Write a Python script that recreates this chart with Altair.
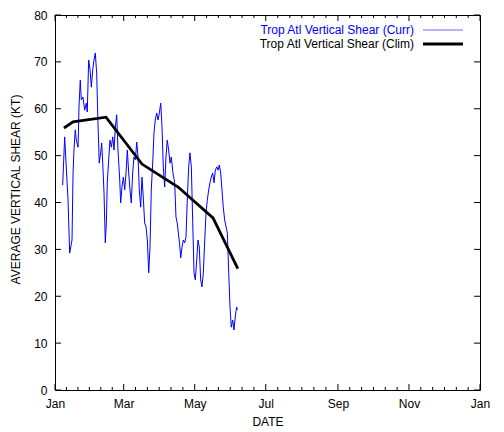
import altair as alt
import pandas as pd

# ---- data (day of year offset from Jan 1, value in KT) ----
curr_day = [6.6, 8.3, 11.2, 12.6, 14.6, 15.5, 16.3, 17.4, 18.3, 19.8, 20.6, 21.7, 22.6, 24.0,
            25.5, 26.9, 27.7, 28.9, 30.1, 31.2, 32.4, 33.5, 34.6, 35.8, 36.9, 38.0, 39.2, 40.1,
            41.0, 42.1, 43.2, 44.1, 44.9, 46.1, 47.2, 48.4, 49.6, 50.7, 51.8, 53.0, 54.1, 55.6,
            56.4, 57.5, 58.7, 59.9, 61.0, 62.1, 63.3, 64.4, 65.5, 66.7, 67.8, 69.0, 70.2, 71.3,
            72.4, 73.6, 74.7, 75.8, 77.0, 78.2, 79.3, 80.5, 81.6, 82.7, 83.9, 85.0, 86.1, 87.3,
            88.5, 89.6, 90.8, 91.9, 93.0, 94.2, 95.3, 96.4, 97.6, 98.8, 99.9, 101.3, 102.8, 103.9,
            105.0, 106.9, 108.0, 109.1, 110.2, 111.4, 112.5, 113.6, 114.8, 115.9, 117.1, 118.3,
            119.4, 120.5, 121.7, 122.8, 123.9, 125.1, 126.2, 127.4, 128.6, 129.7, 130.8, 132.0,
            133.1, 134.2, 135.4, 136.6, 137.7, 138.9, 140.0, 141.1, 142.3, 143.4, 144.5, 145.7,
            146.9, 148.0, 149.2, 150.3, 151.4, 152.6, 153.7, 154.8, 156.0, 156.6]
curr_val = [43.7, 54.0, 40.5, 29.2, 32.0, 46.3, 51.2, 55.5, 53.3, 51.8, 60.4, 66.1, 61.9, 62.5,
            59.7, 61.2, 59.3, 70.4, 68.3, 64.6, 68.3, 70.4, 71.9, 67.6, 57.0, 48.4, 50.6, 52.7,
            48.4, 42.0, 31.4, 35.6, 44.2, 49.1, 53.3, 51.8, 54.0, 51.2, 56.1, 58.7, 51.2, 44.8,
            39.9, 43.3, 45.4, 42.7, 46.3, 51.2, 46.3, 42.7, 39.9, 46.3, 49.7, 49.1, 52.9, 49.7,
            42.7, 39.0, 45.4, 41.2, 35.6, 34.8, 32.0, 25.0, 30.5, 42.7, 48.4, 54.8, 57.6, 59.1,
            57.6, 59.1, 61.2, 56.1, 47.6, 43.3, 49.7, 53.3, 51.2, 48.4, 49.7, 46.3, 44.2, 36.9,
            35.6, 31.4, 28.2, 30.5, 32.0, 31.4, 32.6, 40.5, 47.6, 50.6, 47.6, 35.6,
            25.0, 23.5, 27.7, 32.0, 30.5, 23.5, 22.0, 25.0, 32.0, 37.8, 40.5, 42.7,
            44.2, 45.4, 46.3, 44.2, 46.9, 47.6, 46.9, 48.0, 46.3, 42.7, 39.0, 36.3,
            34.8, 33.5, 25.0, 17.7, 13.4, 14.9, 12.8, 15.6, 17.7, 17.1]

clim_day = [7.7, 15.5, 43.8, 74.7, 105.7, 135.7, 157.0]
clim_val = [55.9, 57.2, 58.2, 48.2, 43.3, 36.7, 25.9]

legend_labels = ["Trop Atl Vertical Shear (Curr)", "Trop Atl Vertical Shear (Clim)"]
month_ticks = ["2023-01-01", "2023-03-01", "2023-05-01", "2023-07-01",
               "2023-09-01", "2023-11-01", "2024-01-01"]
y_ticks = [0, 10, 20, 30, 40, 50, 60, 70, 80]

base = pd.Timestamp("2023-01-01")
curr = pd.DataFrame({"d": base + pd.to_timedelta(curr_day, unit="D"), "v": curr_val})
clim = pd.DataFrame({"d": base + pd.to_timedelta(clim_day, unit="D"), "v": clim_val})

majors = pd.to_datetime(month_ticks)
minor_list = []
for a, b in zip(majors[:-1], majors[1:]):
    for k in range(1, 6):
        minor_list.append(a + (b - a) * k / 6)
major_df = pd.DataFrame({"d": majors})
minor_df = pd.DataFrame({"d": minor_list})
ytick_df = pd.DataFrame({"v": y_ticks})

W, H = 425, 375
FONT = "Liberation Sans"

xscale = alt.Scale(domain=[alt.DateTime(year=2023, month=1, date=1),
                           alt.DateTime(year=2024, month=1, date=1)], nice=False)
yscale = alt.Scale(domain=[0, 80], nice=False)
xaxis = alt.Axis(values=[alt.DateTime(year=int(t[:4]), month=int(t[5:7]), date=1) for t in month_ticks],
                 format="%b", ticks=False, domain=False, grid=False, labelPadding=8,
                 title="DATE", titlePadding=7, labelFlush=False)
yaxis = alt.Axis(values=y_ticks, ticks=False, domain=False, grid=False, labelPadding=8,
                 title="AVERAGE VERTICAL SHEAR (KT)", titleX=-40, titleY=174,
                 titleAngle=270, titleBaseline="middle", titleAlign="center")


def X(field="d"):
    return alt.X(f"{field}:T", scale=xscale, axis=xaxis)


def Y(field="v"):
    return alt.Y(f"{field}:Q", scale=yscale, axis=yaxis)


curr_line = alt.Chart(curr).mark_line(color="#0000ff", strokeWidth=1).encode(x=X(), y=Y())
clim_line = alt.Chart(clim).mark_line(color="black", strokeWidth=2.8).encode(x=X(), y=Y())

xt_major_b = alt.Chart(major_df).mark_rule(color="black").encode(x=X(), y=alt.value(H), y2=alt.value(H - 6))
xt_major_t = alt.Chart(major_df).mark_rule(color="black").encode(x=X(), y=alt.value(0), y2=alt.value(6))
xt_minor_b = alt.Chart(minor_df).mark_rule(color="black").encode(x=X(), y=alt.value(H), y2=alt.value(H - 3))
xt_minor_t = alt.Chart(minor_df).mark_rule(color="black").encode(x=X(), y=alt.value(0), y2=alt.value(3))
yt_l = alt.Chart(ytick_df).mark_rule(color="black").encode(y=Y(), x=alt.value(0), x2=alt.value(6))
yt_r = alt.Chart(ytick_df).mark_rule(color="black").encode(y=Y(), x=alt.value(W), x2=alt.value(W - 6))

leg_df = pd.DataFrame({"label": legend_labels})
leg_t1 = alt.Chart(leg_df.iloc[[0]]).mark_text(align="right", baseline="middle", font=FONT,
                                               fontSize=12, color="#0000ff").encode(
    text="label:N", x=alt.value(359), y=alt.value(15))
leg_t2 = alt.Chart(leg_df.iloc[[1]]).mark_text(align="right", baseline="middle", font=FONT,
                                               fontSize=12, color="black").encode(
    text="label:N", x=alt.value(359), y=alt.value(29))
leg_l1 = alt.Chart(leg_df.iloc[[0]]).mark_rule(color="#9c9cff", strokeWidth=1.5).encode(
    x=alt.value(368), x2=alt.value(408), y=alt.value(15))
leg_l2 = alt.Chart(leg_df.iloc[[1]]).mark_rule(color="black", strokeWidth=2.8).encode(
    x=alt.value(368), x2=alt.value(408), y=alt.value(29))

chart = alt.layer(
    curr_line, clim_line,
    xt_major_b, xt_major_t, xt_minor_b, xt_minor_t, yt_l, yt_r,
    leg_t1, leg_t2, leg_l1, leg_l2,
).properties(
    width=W, height=H,
    autosize=alt.AutoSizeParams(type="none"),
    padding={"left": 47, "top": 7, "right": 16, "bottom": 42},
).configure_view(
    stroke="black", strokeWidth=1
).configure_axis(
    labelFont=FONT, titleFont=FONT, labelFontSize=12, titleFontSize=12,
    labelColor="black", titleColor="black", titleFontWeight="normal"
)

chart.save("out.html", embed_options={"renderer": "svg", "actions": False})
